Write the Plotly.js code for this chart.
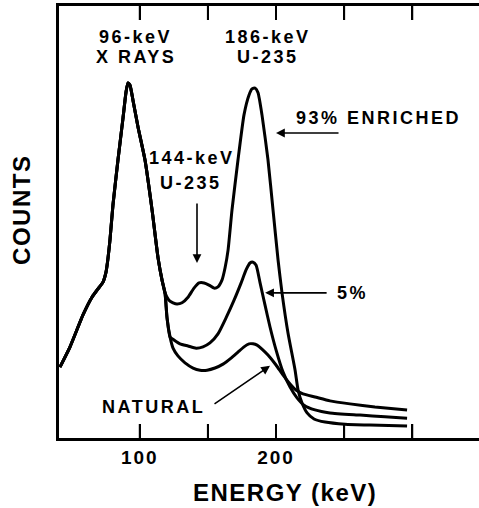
<!DOCTYPE html>
<html>
<head>
<meta charset="utf-8">
<script src="https://cdn.plot.ly/plotly-3.0.1.min.js"></script>
<style>
  html, body { margin: 0; padding: 0; background: #fff; }
  #chart { width: 479px; height: 508px; }
  .annotation-text { letter-spacing: 2.5px; }
  .annotation[data-index="0"] .annotation-text, .annotation[data-index="1"] .annotation-text { letter-spacing: 1.5px; }
  .xtick text { letter-spacing: 2px; }
</style>
</head>
<body>
<div id="chart"></div>
<script>
// Shared low-energy part of all three spectra (energy in keV, counts in arbitrary units)
const sharedEnergy = [41.4, 48.8, 58.3, 64.9, 69.3, 73.0, 75.2, 76.7, 78.1, 80.3, 84.0, 87.7, 89.9, 91.3, 92.8, 95.0, 98.7, 103.8, 109.0, 113.4, 116.3, 118.5];
const sharedCounts = [16.4, 21.1, 28.5, 32.6, 34.5, 36.1, 38.4, 41.7, 45.8, 53.9, 64.4, 74.1, 80.1, 82.2, 81.7, 78.2, 72.0, 64.4, 52.8, 41.7, 36.6, 33.6];

// Part shared by the 5% and natural spectra
const lowEnergy = [120.0, 122.2];
const lowCounts = [27.8, 23.4];

// 93% enriched branch
const enr93Energy = [121.4, 124.4, 127.3, 131.0, 135.4, 139.8, 143.5, 147.2, 150.8, 154.5, 157.4, 160.4, 162.6, 164.8, 167.7, 172.1, 176.5, 180.2, 182.4, 184.6, 186.8, 189.7, 194.1, 197.8, 201.5, 204.4, 208.8, 214.0, 216.2, 219.1, 222.8, 227.9, 236.0, 250.7, 269.0, 296.2];
const enr93Counts = [31.9, 31.3, 31.0, 31.3, 32.6, 34.7, 35.9, 35.9, 35.4, 34.7, 35.0, 36.6, 39.4, 43.5, 52.8, 64.4, 74.8, 79.4, 80.8, 81.0, 79.9, 74.8, 64.4, 52.8, 41.2, 33.6, 24.3, 15.7, 11.1, 8.1, 5.8, 4.4, 3.7, 3.2, 3.0, 2.8];

// 5% enriched branch
const enr5Energy = [125.1, 129.5, 135.4, 141.3, 146.4, 151.5, 157.4, 163.3, 169.2, 174.4, 178.0, 180.9, 183.1, 185.4, 188.3, 191.9, 195.6, 200.0, 205.1, 210.3, 215.4, 220.6, 228.6, 239.6, 261.7, 280.0, 296.2];
const enr5Counts = [22.7, 21.8, 21.3, 20.8, 21.1, 22.0, 24.1, 27.8, 31.9, 35.9, 38.9, 40.5, 40.7, 40.0, 35.9, 30.8, 25.7, 20.4, 15.3, 11.8, 9.3, 7.6, 6.5, 5.8, 5.3, 4.9, 4.6];

// Natural uranium branch
const naturalEnergy = [124.4, 128.0, 133.2, 139.1, 144.2, 149.4, 155.2, 161.1, 167.0, 172.1, 176.5, 180.2, 183.1, 186.1, 189.7, 194.1, 200.0, 205.1, 210.3, 214.7, 219.8, 228.6, 239.6, 254.3, 272.6, 296.2];
const naturalCounts = [20.8, 19.0, 17.4, 16.2, 15.7, 15.7, 16.2, 17.1, 18.5, 19.9, 21.1, 21.8, 21.8, 21.5, 20.6, 19.2, 16.9, 14.6, 12.5, 11.1, 10.2, 9.5, 8.6, 7.9, 7.2, 6.5];

const tickValues = [100, 150, 200, 250, 300];
const tickLabels = ['100', '', '200', '', ''];

const lineStyle = { color: '#000', width: 3, shape: 'spline', smoothing: 0.5 };
function trace(name, xs, ys) {
  return { type: 'scatter', mode: 'lines', name: name, x: xs, y: ys, line: lineStyle, hoverinfo: 'skip' };
}

const data = [
  trace('93% enriched', sharedEnergy.concat(enr93Energy), sharedCounts.concat(enr93Counts)),
  trace('5%', sharedEnergy.concat(lowEnergy, enr5Energy), sharedCounts.concat(lowCounts, enr5Counts)),
  trace('Natural', sharedEnergy.concat(lowEnergy, naturalEnergy), sharedCounts.concat(lowCounts, naturalCounts))
];

const font = 'Liberation Sans, Arial, sans-serif';
function label(text, x, y) {
  return { text: text, x: x, y: y, xref: 'x', yref: 'y', showarrow: false, xanchor: 'center', yanchor: 'middle',
           font: { family: font, size: 18, color: '#000', weight: 'bold' } };
}
function arrow(x, y, ax, ay) {
  return { text: '', x: x, y: y, xref: 'x', yref: 'y', ax: ax, ay: ay, showarrow: true,
           arrowhead: 2, arrowsize: 1.1, arrowwidth: 1.6, arrowcolor: '#000', standoff: 0, startstandoff: 0 };
}
const titleFont = { family: font, size: 24, color: '#000', weight: 'bold' };

// Inside tick marks on the bottom and top edges, placed on the x scale at the tick values
const tickFrac = 14 / 432;
const tickShapes = [];
tickValues.forEach(function (v) {
  tickShapes.push({ type: 'line', layer: 'above', xref: 'x', yref: 'paper', x0: v, x1: v, y0: 0, y1: tickFrac, line: { color: '#000', width: 2 } });
  tickShapes.push({ type: 'line', layer: 'above', xref: 'x', yref: 'paper', x0: v, x1: v, y0: 1, y1: 1 - tickFrac, line: { color: '#000', width: 2 } });
});

const layout = {
  width: 479, height: 508,
  margin: { l: 59, r: 0, t: 6, b: 70 },
  showlegend: false,
  xaxis: {
    range: [40.7, 349],
    showline: true, linewidth: 3, linecolor: '#000', mirror: 'ticks',
    ticks: 'inside', ticklen: 14, tickwidth: 2, tickcolor: '#000',
    tickvals: tickValues, ticktext: tickLabels,
    tickfont: { family: font, size: 19, color: '#000', weight: 'bold' },
    showgrid: false, zeroline: false
  },
  yaxis: {
    range: [0, 100],
    showline: true, linewidth: 3, linecolor: '#000',
    ticks: '', showticklabels: false, showgrid: false, zeroline: false
  },
  shapes: tickShapes,
  annotations: [
    { text: 'ENERGY (keV)', xref: 'paper', yref: 'paper', x: 0.538, y: -0.127, showarrow: false,
      xanchor: 'center', yanchor: 'middle', font: titleFont },
    { text: 'COUNTS', xref: 'paper', yref: 'paper', x: -0.088, y: 0.528, showarrow: false, textangle: -90,
      xanchor: 'center', yanchor: 'middle', font: titleFont },
    label('96-keV', 97.2, 92.8),
    label('X RAYS', 97.2, 88.2),
    label('186-keV', 194.1, 92.8),
    label('U-235', 194.1, 88.2),
    label('144-keV', 138.3, 64.8),
    label('U-235', 137.6, 59.0),
    label('93% ENRICHED', 274.9, 74.1),
    label('5%', 255.8, 33.6),
    label('NATURAL', 109.7, 7.2),
    arrow(142.0, 40.5, 0, -61),
    arrow(200.0, 70.6, 64, 0),
    arrow(192.0, 33.6, 63, 0),
    arrow(195.6, 16.7, -57, 39)
  ]
};

Plotly.newPlot('chart', data, layout, { displayModeBar: false, staticPlot: true });
</script>
</body>
</html>
